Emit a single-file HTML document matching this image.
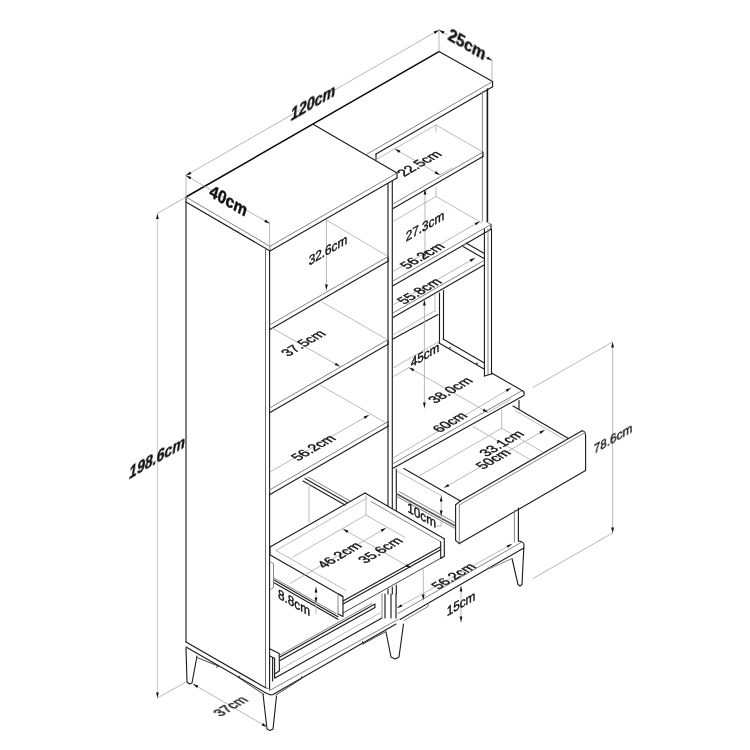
<!DOCTYPE html>
<html><head><meta charset="utf-8"><title>Dimensions</title>
<style>
html,body{margin:0;padding:0;background:#fff;}
body{width:750px;height:750px;overflow:hidden;}
svg{display:block;}
path{fill:none;stroke-linecap:round;stroke-linejoin:round;}
.k{stroke:#0a0a0a;stroke-width:1.5;}
.k2{stroke:#1a1a1a;stroke-width:1.6;}
.d{stroke:#1c1c1c;stroke-width:1.12;}
.m{stroke:#858585;stroke-width:1;}
.m2{stroke:#6a6a6a;stroke-width:1;}
.d2{stroke:#333;stroke-width:0.9;}
.rn{stroke:#5a5a5a;stroke-width:1.7;}
.l{stroke:#b4b4b4;stroke-width:0.9;}
.g{stroke:#ababab;stroke-width:0.85;}
.gl{stroke:#c4c4c4;stroke-width:0.9;}
.ar{fill:#111;stroke:none;}
text{font-family:"Liberation Sans",sans-serif;fill:#111;stroke:#111;stroke-width:0.4px;}
</style></head><body>
<svg width="750" height="750" viewBox="0 0 750 750">
<rect width="750" height="750" fill="#fff"/>
<path class="k" d="M186.0,197.0 L439.0,51.6"/>
<path class="m" d="M186.0,197.0 L270.0,246.3"/>
<path class="d" d="M186.0,202.0 L270.0,250.9"/>
<path class="m" d="M270.0,246.3 L397.0,173.0"/>
<path class="d" d="M270.0,250.9 L397.0,178.0"/>
<path class="d" d="M397.0,173.0 L397.0,178.0"/>
<path class="d" d="M313.5,124.5 L397.0,173.0"/>
<path class="m" d="M270.0,246.3 L270.0,250.9"/>
<path class="d" d="M186.0,197.0 L186.0,642.0"/>
<path class="m2" d="M265.5,248.2 L265.5,687.5"/>
<path class="d" d="M269.6,250.5 L269.6,690.0"/>
<path class="d" d="M186.0,642.0 L266.0,688.0"/>
<path class="d" d="M388.0,183.5 L388.0,506.0"/>
<path class="d" d="M388.0,589.0 L388.0,594.0"/>
<path class="d" d="M392.3,181.0 L392.3,508.5"/>
<path class="d" d="M392.3,587.0 L392.3,594.0"/>
<path class="m" d="M269.6,325.0 L388.0,256.6"/>
<path class="d" d="M269.6,329.7 L388.0,261.3"/>
<path class="d" d="M388.0,256.6 L388.0,261.3"/>
<path class="m" d="M269.6,408.0 L388.0,339.6"/>
<path class="d" d="M269.6,412.7 L388.0,344.3"/>
<path class="d" d="M388.0,339.6 L388.0,344.3"/>
<path class="m" d="M269.6,490.0 L388.0,421.6"/>
<path class="d" d="M269.6,494.7 L388.0,426.3"/>
<path class="d" d="M388.0,421.6 L388.0,426.3"/>
<path class="l" d="M326.4,220.0 L388.0,256.5"/>
<path class="l" d="M322.0,302.0 L388.0,340.0"/>
<path class="l" d="M320.0,385.0 L388.0,424.0"/>
<path class="d" d="M186.0,647.0 L266.8,693.4 L270.4,694.8"/>
<path class="m" d="M266.0,687.7 L270.8,689.8 L398.0,619.5"/>
<path class="d" d="M270.4,694.8 L273.0,694.6 L396.0,624.0"/>
<path class="d" d="M275.0,678.0 L382.0,618.0"/>
<path class="l" d="M279.0,670.0 L380.0,613.0"/>
<path class="d" d="M280.0,657.0 L375.0,604.0 L375.0,607.5 L280.0,660.5"/>
<path class="m" d="M280.0,655.0 L372.0,603.5"/>
<path class="d" d="M269.6,648.8 L279.2,653.6 L279.4,671.0 L274.6,674.0"/>
<path class="d" d="M274.6,658.0 L274.6,678.0"/>
<path class="d" d="M269.8,656.0 L273.8,658.0"/>
<path class="d" d="M272.6,658.0 L272.6,681.0"/>
<path class="d" d="M186.0,648.0 L187.0,682.0 L189.5,684.0 L192.0,683.0 L197.0,656.0"/>
<path class="d" d="M263.0,694.0 L267.0,729.0 L270.0,730.5 L273.0,729.0 L276.5,696.0"/>
<path class="d" d="M386.0,632.0 L391.0,657.0 L395.0,659.0 L399.0,657.0 L403.5,624.0"/>
<path class="d2" d="M197.0,657.5 L218.7,666.2 L216.5,667.2"/>
<path class="d2" d="M238.0,677.2 L263.8,694.5"/>
<path class="d2" d="M238.0,677.2 L240.0,676.3"/>
<path class="d2" d="M276.0,695.0 L301.6,678.6 L301.6,676.6"/>
<path class="d2" d="M363.0,644.0 L386.0,631.5"/>
<path class="d2" d="M363.0,644.0 L362.5,641.5"/>
<path class="m" d="M382.0,594.0 L382.0,618.0"/>
<path class="d" d="M385.0,594.0 L385.0,618.0"/>
<path class="d" d="M391.0,594.0 L391.0,618.0"/>
<path class="d" d="M396.0,594.0 L396.0,618.0"/>
<path class="d" d="M270.0,547.0 L365.0,493.0"/>
<path class="d" d="M365.0,493.0 L444.3,538.8"/>
<path class="m" d="M371.0,501.5 L440.7,541.7"/>
<path class="d" d="M444.3,538.8 L444.3,556.2 L440.7,558.5 L440.7,541.7"/>
<path class="d" d="M270.0,547.0 L270.0,555.3"/>
<path class="d" d="M270.7,555.3 L342.7,596.5"/>
<path class="l" d="M276.0,550.5 L346.0,590.5"/>
<path class="l" d="M276.0,550.5 L367.0,498.0"/>
<path class="d" d="M343.0,601.0 L440.7,546.8"/>
<path class="d" d="M343.0,604.0 L440.7,549.8"/>
<path class="d2" d="M343.0,613.0 L444.3,556.2"/>
<path class="d" d="M338.0,593.5 L343.0,596.5 L343.0,616.5 L338.0,614.0"/>
<path class="m" d="M338.0,593.5 L338.0,614.0"/>
<path class="d" d="M274.0,580.0 L338.0,616.7"/>
<path class="d" d="M274.0,582.7 L338.0,619.3"/>
<path class="m" d="M274.0,578.0 L336.0,613.5"/>
<path class="m" d="M270.7,562.0 L273.5,563.5 L273.5,587.5 L270.7,589.5"/>
<path class="l" d="M366.0,496.0 L366.0,515.0"/>
<path class="l" d="M366.0,515.0 L293.0,557.0"/>
<path class="l" d="M366.0,515.0 L405.0,537.5"/>
<path class="d" d="M305.0,478.5 L347.0,502.5"/>
<path class="d" d="M303.0,481.0 L345.0,505.0"/>
<path class="m" d="M308.0,477.0 L350.0,501.0"/>
<path class="l" d="M309.0,482.0 L309.0,522.0"/>
<path class="d" d="M439.0,51.6 L492.6,81.6"/>
<path class="m" d="M492.6,81.6 L366.5,154.4"/>
<path class="d" d="M492.6,86.8 L376.0,154.1"/>
<path class="d" d="M492.6,81.6 L492.6,86.8"/>
<path class="d" d="M376.0,154.0 L376.0,160.0"/>
<path class="l" d="M377.0,159.0 L436.0,125.0"/>
<path class="l" d="M436.0,125.0 L436.0,132.0"/>
<path class="l" d="M436.0,125.0 L482.0,151.5"/>
<path class="m" d="M482.4,91.5 L482.4,221.0"/>
<path class="k2" d="M487.4,89.0 L487.4,221.5"/>
<path class="m" d="M393.0,204.0 L483.0,152.0"/>
<path class="d" d="M393.0,208.6 L483.0,156.6"/>
<path class="d" d="M483.0,152.0 L483.0,156.6"/>
<path class="m" d="M393.0,281.0 L491.0,224.4"/>
<path class="d" d="M393.0,285.8 L491.0,229.2"/>
<path class="d" d="M491.0,224.4 L491.0,229.2"/>
<path class="m" d="M491.0,224.4 L486.0,221.5"/>
<path class="l" d="M436.0,188.0 L436.0,196.5"/>
<path class="l" d="M436.0,196.5 L393.0,221.5"/>
<path class="l" d="M436.0,196.5 L482.0,223.0"/>
<path class="d" d="M484.4,229.0 L484.4,376.0"/>
<path class="m" d="M488.0,229.0 L488.0,375.0"/>
<path class="d" d="M491.5,229.0 L491.5,374.0"/>
<path class="d" d="M484.4,376.0 L491.5,374.0"/>
<path class="d" d="M463.0,246.5 L484.0,258.5"/>
<path class="d" d="M466.0,243.0 L484.4,253.5"/>
<path class="m" d="M463.0,246.5 L466.0,243.0"/>
<path class="m" d="M393.0,313.0 L484.0,260.5"/>
<path class="d" d="M393.0,317.6 L484.0,265.1"/>
<path class="d" d="M393.0,339.0 L438.0,314.5"/>
<path class="l" d="M393.0,335.0 L435.0,310.7"/>
<path class="l" d="M435.0,294.0 L435.0,312.0"/>
<path class="d" d="M439.5,293.0 L439.5,343.0"/>
<path class="d" d="M443.5,290.5 L443.5,339.0"/>
<path class="d" d="M439.0,343.0 L484.0,369.0"/>
<path class="d" d="M443.0,339.0 L484.0,362.7"/>
<circle cx="450" cy="347.8" r="0.8" class="ar"/>
<circle cx="477" cy="363.4" r="0.8" class="ar"/>
<path class="d" d="M491.6,373.0 L522.0,390.5"/>
<path class="m" d="M393.0,463.6 L522.0,390.7"/>
<path class="d" d="M393.0,468.3 L522.0,396.5"/>
<path class="d" d="M522,390.5 Q524.5,391.5 524.2,394 Q524.2,396 522,396.5"/>
<path class="l" d="M393.0,368.0 L439.0,341.5"/>
<path class="d" d="M396.3,469.0 L396.3,510.5"/>
<path class="d" d="M396.3,585.0 L396.3,594.0"/>
<path class="l" d="M397.0,471.0 L441.0,495.5"/>
<path class="d" d="M403.8,468.6 L460.4,501.0"/>
<path class="rn" d="M397.0,494.0 L454.5,525.6"/>
<path class="m" d="M397.0,496.5 L454.5,528.1"/>
<path class="m" d="M399.0,491.5 L455.0,522.6"/>
<path class="d" d="M513.0,406.0 L568.0,438.3"/>
<path class="d" d="M519.0,400.5 L519.0,409.0"/>
<path class="d" d="M460.4,501.0 L582.0,430.8"/>
<path class="d" d="M582,430.8 Q585.5,431 585.6,436"/>
<path class="m" d="M459.3,505.0 L584.5,432.8"/>
<path class="d" d="M460.4,501.0 L455.6,504.7 L455.6,540.4 L459.3,543.6"/>
<path class="m" d="M459.3,505.0 L459.3,543.6"/>
<path class="d" d="M585.6,436.0 L585.6,470.6"/>
<path class="d" d="M459.3,543.6 L585.6,470.6"/>
<path class="l" d="M501.7,409.5 L501.7,428.2"/>
<path class="l" d="M501.7,428.2 L542.4,451.8"/>
<path class="l" d="M501.7,428.2 L419.0,476.0"/>
<path class="l" d="M473.0,426.5 L531.0,460.0"/>
<path class="l" d="M515.0,410.5 L565.5,440.0"/>
<path class="m" d="M514.4,510.0 L514.4,542.0"/>
<path class="d" d="M518.4,508.0 L518.4,541.0"/>
<path class="m" d="M521.0,542.5 L398.0,613.5"/>
<path class="d" d="M523.8,548.0 L400.0,619.5"/>
<path class="d" d="M518.4,541 Q524,541.5 524,545 L523.8,548"/>
<path class="d" d="M512.0,558.5 L518.0,584.5 L520.0,586.0 L522.0,584.5 L523.8,548.0"/>
<path class="m" d="M512.0,558.5 L490.0,568.5 L488.0,566.5"/>
<path class="m" d="M404.0,620.5 L428.0,606.5 L428.5,603.5"/>
<path class="l" d="M423.3,567.0 L423.3,600.0"/>
<path class="ar" d="M423.3,600.0 L421.9,594.6 L424.7,594.6Z"/>
<path class="g" d="M186.0,175.5 L439.0,30.0"/>
<path class="ar" d="M186.0,175.5 L190.0,171.6 L191.4,174.0Z"/>
<path class="ar" d="M439.0,30.0 L435.0,33.9 L433.6,31.5Z"/>
<path class="g" d="M186.0,174.0 L186.0,197.0"/>
<path class="g" d="M439.0,29.0 L439.0,51.0"/>
<path class="g" d="M186.0,175.5 L269.6,223.5"/>
<path class="ar" d="M186.0,175.5 L191.4,177.0 L190.0,179.4Z"/>
<path class="ar" d="M269.6,223.5 L264.2,222.0 L265.6,219.6Z"/>
<path class="g" d="M269.6,222.0 L269.6,246.0"/>
<path class="g" d="M439.0,30.0 L447.0,34.6"/>
<path class="g" d="M485.0,56.5 L492.0,60.5"/>
<path class="ar" d="M439.0,30.0 L444.6,31.4 L443.0,34.1Z"/>
<path class="ar" d="M492.0,60.5 L486.4,59.1 L488.0,56.4Z"/>
<path class="g" d="M492.0,59.0 L492.0,80.0"/>
<path class="gl" d="M157.4,213.5 L157.4,698.0"/>
<path class="ar" d="M157.4,213.5 L158.8,218.9 L156.1,218.9Z"/>
<path class="ar" d="M157.4,698.0 L156.1,692.6 L158.8,692.6Z"/>
<path class="g" d="M186.0,197.0 L157.4,213.5"/>
<path class="g" d="M157.4,698.0 L186.0,682.0"/>
<path class="g" d="M612.6,342.0 L612.6,533.0"/>
<path class="ar" d="M612.6,342.0 L614.0,347.4 L611.2,347.4Z"/>
<path class="ar" d="M612.6,533.0 L611.2,527.6 L614.0,527.6Z"/>
<path class="g" d="M533.0,387.5 L612.6,342.0"/>
<path class="g" d="M533.0,578.5 L612.6,533.0"/>
<path class="g" d="M326.4,220.0 L326.4,290.0"/>
<path class="ar" d="M326.4,290.0 L325.0,284.6 L327.8,284.6Z"/>
<path class="g" d="M272.0,328.0 L340.0,366.5"/>
<path class="ar" d="M340.0,366.5 L334.6,365.0 L336.0,362.7Z"/>
<path class="g" d="M270.0,472.0 L369.0,415.0"/>
<path class="ar" d="M369.0,415.0 L365.0,418.9 L363.6,416.5Z"/>
<path class="g" d="M395.0,149.0 L440.0,175.0"/>
<path class="ar" d="M395.0,149.0 L400.4,150.5 L399.0,152.9Z"/>
<path class="ar" d="M440.0,175.0 L434.6,173.5 L436.0,171.1Z"/>
<path class="l" d="M440.0,175.0 L452.0,168.0"/>
<path class="g" d="M425.0,189.0 L425.0,257.0"/>
<path class="ar" d="M425.0,189.0 L426.4,194.4 L423.6,194.4Z"/>
<path class="ar" d="M425.0,257.0 L423.6,251.6 L426.4,251.6Z"/>
<path class="g" d="M393.0,271.5 L480.0,221.4"/>
<path class="ar" d="M480.0,221.4 L476.0,225.3 L474.6,222.9Z"/>
<path class="g" d="M393.0,305.0 L475.0,258.0"/>
<path class="ar" d="M475.0,258.0 L471.0,261.9 L469.6,259.5Z"/>
<path class="g" d="M424.4,300.0 L424.4,408.0"/>
<path class="ar" d="M424.4,300.0 L425.8,305.4 L423.0,305.4Z"/>
<path class="ar" d="M424.4,408.0 L423.0,402.6 L425.8,402.6Z"/>
<path class="g" d="M409.0,367.6 L488.0,412.4"/>
<path class="ar" d="M409.0,367.6 L414.4,369.1 L413.0,371.4Z"/>
<path class="ar" d="M488.0,412.4 L482.6,410.9 L484.0,408.6Z"/>
<path class="l" d="M409.0,367.6 L394.0,376.3"/>
<path class="l" d="M488.0,412.4 L511.0,399.0"/>
<path class="g" d="M393.0,458.0 L511.0,388.0"/>
<path class="ar" d="M511.0,388.0 L507.0,391.9 L505.7,389.6Z"/>
<path class="g" d="M444.0,487.8 L544.8,430.0"/>
<path class="ar" d="M444.0,487.8 L448.0,483.9 L449.4,486.3Z"/>
<path class="ar" d="M544.8,430.0 L540.8,433.9 L539.4,431.5Z"/>
<path class="g" d="M441.2,496.0 L441.2,516.0"/>
<path class="ar" d="M441.2,496.0 L442.6,501.4 L439.8,501.4Z"/>
<path class="ar" d="M441.2,516.0 L439.8,510.6 L442.6,510.6Z"/>
<path class="l" d="M441.2,516.0 L441.2,526.0 L437.0,526.0"/>
<path class="g" d="M290.0,583.5 L386.0,528.0"/>
<path class="ar" d="M386.0,528.0 L382.0,531.9 L380.6,529.5Z"/>
<path class="g" d="M343.0,529.0 L411.0,568.0"/>
<path class="ar" d="M343.0,529.0 L348.4,530.5 L347.0,532.9Z"/>
<path class="ar" d="M411.0,568.0 L405.6,566.5 L407.0,564.1Z"/>
<path class="g" d="M316.0,587.0 L316.0,603.0"/>
<path class="ar" d="M316.0,587.0 L317.4,592.4 L314.6,592.4Z"/>
<path class="ar" d="M316.0,603.0 L314.6,597.6 L317.4,597.6Z"/>
<path class="l" d="M316.0,603.0 L316.0,614.0"/>
<path class="g" d="M397.0,608.0 L512.0,544.0"/>
<path class="ar" d="M397.0,608.0 L401.1,604.2 L402.4,606.6Z"/>
<path class="ar" d="M512.0,544.0 L507.9,547.8 L506.6,545.4Z"/>
<path class="g" d="M461.0,586.0 L461.0,622.0"/>
<path class="ar" d="M461.0,586.0 L462.4,591.4 L459.6,591.4Z"/>
<path class="ar" d="M461.0,622.0 L459.6,616.6 L462.4,616.6Z"/>
<path class="g" d="M193.0,684.0 L267.0,727.0"/>
<path class="ar" d="M193.0,684.0 L198.3,685.5 L197.0,687.9Z"/>
<path class="ar" d="M267.0,727.0 L261.7,725.5 L263.0,723.1Z"/>
<g opacity="0.999">
<text transform="matrix(0.866,-0.5,0.03,0.95,313.0,102.6)" text-anchor="middle" dominant-baseline="central" style="font-size:16.5px;font-weight:bold;font-style:italic;">120cm</text>
<text transform="matrix(0.866,0.5,-0.3,1.0,467.0,44.4)" text-anchor="middle" dominant-baseline="central" style="font-size:16.5px;font-weight:bold;">25cm</text>
<text transform="matrix(0.866,0.5,-0.3,1.0,228.5,200.8)" text-anchor="middle" dominant-baseline="central" style="font-size:16.5px;font-weight:bold;">40cm</text>
<text transform="matrix(0.866,-0.5,0,1,157.0,457.0)" text-anchor="middle" dominant-baseline="central" style="font-size:16.3px;font-weight:bold;font-style:italic;">198.6cm</text>
<text transform="matrix(0.866,-0.5,0,1,613.0,438.0)" text-anchor="middle" dominant-baseline="central" style="font-size:13.6px;">78.6cm</text>
<text transform="matrix(0.866,-0.5,0,1,328.0,250.0)" text-anchor="middle" dominant-baseline="central" style="font-size:13.6px;">32.6cm</text>
<text transform="matrix(0.866,-0.5,0.91,0.525,303.0,343.0)" text-anchor="middle" dominant-baseline="central" style="font-size:13.6px;">37.5cm</text>
<text transform="matrix(0.866,-0.5,0.91,0.525,313.0,447.6)" text-anchor="middle" dominant-baseline="central" style="font-size:13.6px;">56.2cm</text>
<text transform="matrix(0.866,-0.5,0.91,0.525,419.0,163.3)" text-anchor="middle" dominant-baseline="central" style="font-size:13.6px;">22.5cm</text>
<text transform="matrix(0.866,-0.5,0,1,425.0,226.0)" text-anchor="middle" dominant-baseline="central" style="font-size:13.6px;">27.3cm</text>
<text transform="matrix(0.866,-0.5,0.91,0.525,422.0,255.7)" text-anchor="middle" dominant-baseline="central" style="font-size:13.6px;">56.2cm</text>
<text transform="matrix(0.866,-0.5,0.91,0.525,419.0,291.0)" text-anchor="middle" dominant-baseline="central" style="font-size:13.6px;">55.8cm</text>
<text transform="matrix(0.866,-0.5,0,1,425.0,355.0)" text-anchor="middle" dominant-baseline="central" style="font-size:13.6px;">45cm</text>
<text transform="matrix(0.866,-0.5,0.91,0.525,450.0,390.0)" text-anchor="middle" dominant-baseline="central" style="font-size:13.6px;">38.0cm</text>
<text transform="matrix(0.866,-0.5,0.91,0.525,449.6,422.2)" text-anchor="middle" dominant-baseline="central" style="font-size:13.6px;">60cm</text>
<text transform="matrix(0.866,-0.5,0.91,0.525,501.4,443.2)" text-anchor="middle" dominant-baseline="central" style="font-size:13.6px;">33.1cm</text>
<text transform="matrix(0.866,-0.5,0.91,0.525,493.0,459.0)" text-anchor="middle" dominant-baseline="central" style="font-size:13.6px;">50cm</text>
<text transform="matrix(0.866,0.5,0,1,421.6,515.4)" text-anchor="middle" dominant-baseline="central" style="font-size:13.6px;">10cm</text>
<text transform="matrix(0.866,-0.5,0.91,0.525,339.0,555.0)" text-anchor="middle" dominant-baseline="central" style="font-size:13.6px;">46.2cm</text>
<text transform="matrix(0.866,-0.5,0.91,0.525,380.0,550.0)" text-anchor="middle" dominant-baseline="central" style="font-size:13.6px;">35.6cm</text>
<text transform="matrix(0.866,0.5,0,1,294.0,602.7)" text-anchor="middle" dominant-baseline="central" style="font-size:13.6px;">8.8cm</text>
<text transform="matrix(0.866,-0.5,0.91,0.525,453.3,576.0)" text-anchor="middle" dominant-baseline="central" style="font-size:13.6px;">56.2cm</text>
<text transform="matrix(0.866,-0.5,0,1,461.0,603.6)" text-anchor="middle" dominant-baseline="central" style="font-size:13.6px;">15cm</text>
<text transform="matrix(0.866,-0.5,0.91,0.525,230.0,706.0)" text-anchor="middle" dominant-baseline="central" style="font-size:13.6px;">37cm</text>
</g>
</svg>
</body></html>
